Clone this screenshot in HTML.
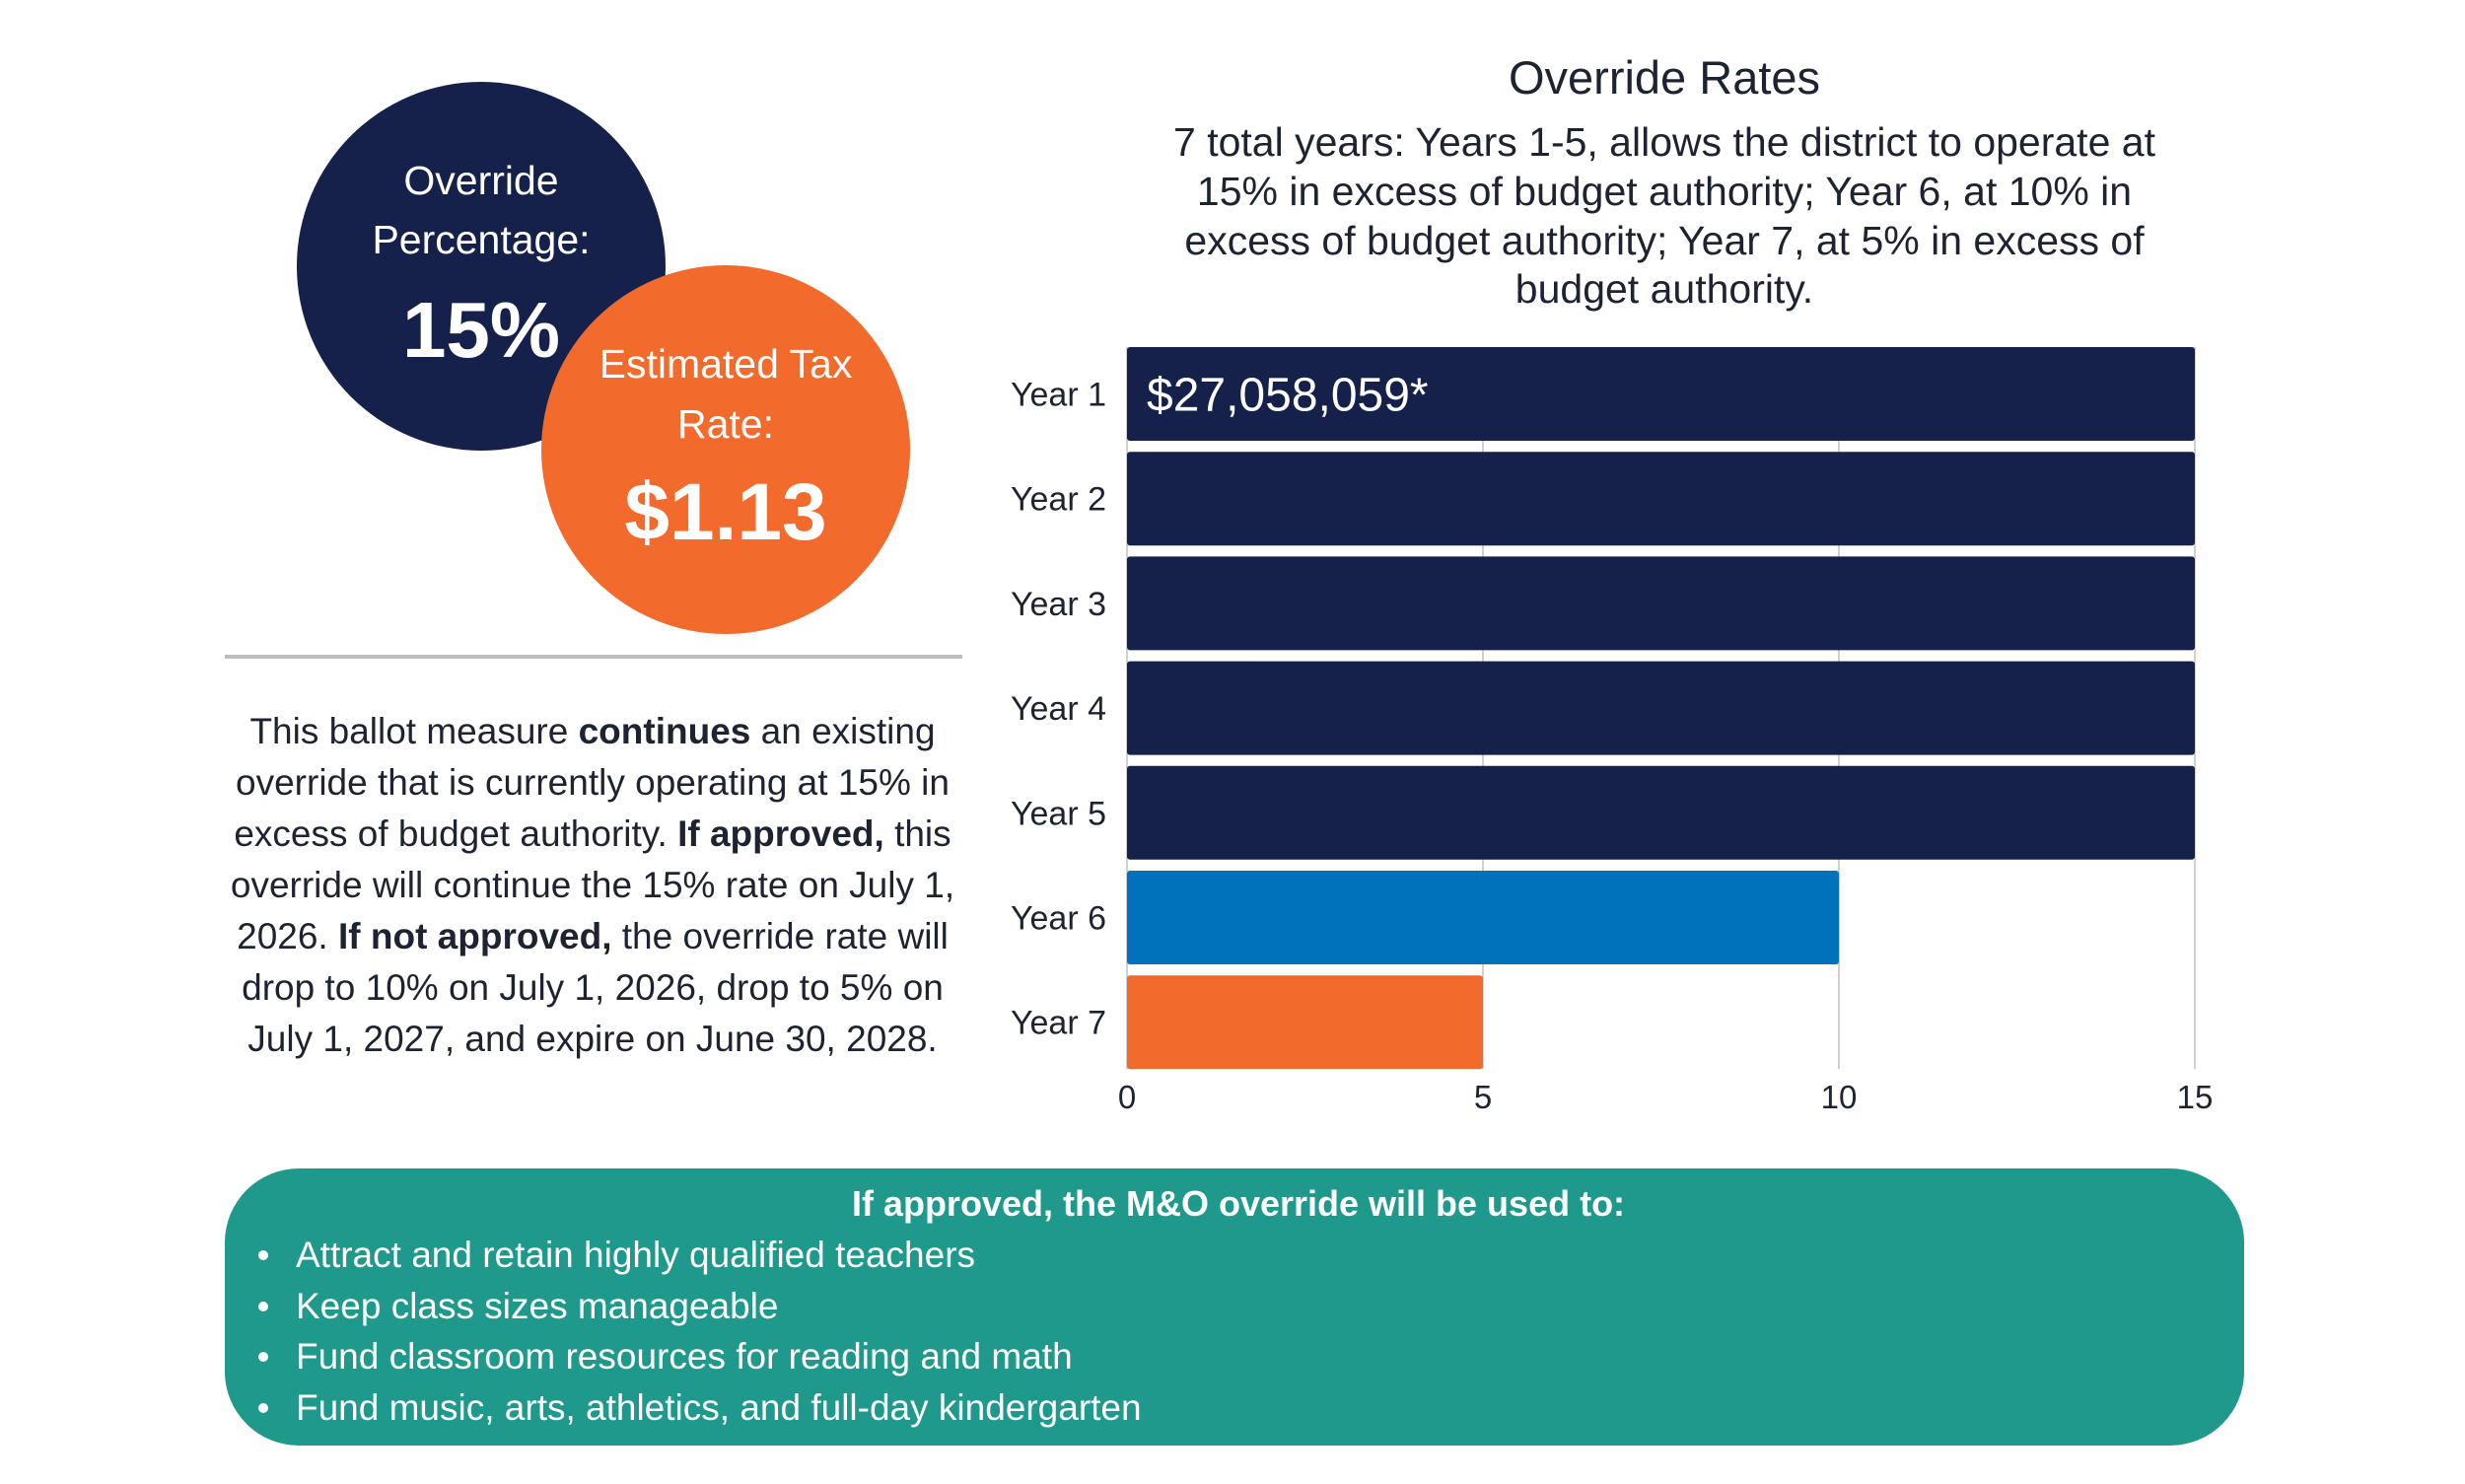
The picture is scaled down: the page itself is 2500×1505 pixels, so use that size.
<!DOCTYPE html>
<html><head><meta charset="utf-8"><style>
html,body{margin:0;padding:0;background:#fff}
svg{display:block}
text{font-family:"Liberation Sans",sans-serif}
</style></head><body>
<svg id="s" width="2500" height="1505" viewBox="0 0 2500 1505" xmlns="http://www.w3.org/2000/svg">
<g>
<circle cx="488" cy="270" r="187" fill="#15214a"/>
<text x="488" y="197" text-anchor="middle" font-size="41" fill="#fff">Override</text>
<text x="488" y="257" text-anchor="middle" font-size="41" fill="#fff">Percentage:</text>
<text x="488" y="362" text-anchor="middle" font-size="80" font-weight="bold" fill="#fff">15%</text>
</g>
<g>
<circle cx="736" cy="456" r="187" fill="#f26a2c"/>
<text x="736" y="383" text-anchor="middle" font-size="41" fill="#fff">Estimated Tax</text>
<text x="736" y="444" text-anchor="middle" font-size="41" fill="#fff">Rate:</text>
<text x="736" y="547" text-anchor="middle" font-size="82" font-weight="bold" fill="#fff">$1.13</text>
</g>
<rect x="228" y="664" width="748" height="4" fill="#bdbdbd"/>
<g font-size="37" fill="#1d2330" text-anchor="middle">
<text x="601" y="754">This ballot measure <tspan font-weight="bold">continues</tspan> an existing</text>
<text x="601" y="806">override that is currently operating at 15% in</text>
<text x="601" y="858">excess of budget authority. <tspan font-weight="bold">If approved,</tspan> this</text>
<text x="601" y="910">override will continue the 15% rate on July 1,</text>
<text x="601" y="962">2026. <tspan font-weight="bold">If not approved,</tspan> the override rate will</text>
<text x="601" y="1014">drop to 10% on July 1, 2026, drop to 5% on</text>
<text x="601" y="1066">July 1, 2027, and expire on June 30, 2028.</text>
</g>
<text x="1688" y="95" text-anchor="middle" font-size="47" fill="#1d2330">Override Rates</text>
<g font-size="41" fill="#1d2330" text-anchor="middle">
<text x="1688" y="158">7 total years: Years 1-5, allows the district to operate at</text>
<text x="1688" y="208">15% in excess of budget authority; Year 6, at 10% in</text>
<text x="1688" y="258">excess of budget authority; Year 7, at 5% in excess of</text>
<text x="1688" y="307">budget authority.</text>
</g>
<g id="chart"></g>
<g>
<rect x="228" y="1185" width="2048" height="281" rx="75" fill="#1f998b"/>
<text x="1256" y="1233" text-anchor="middle" font-size="36" font-weight="bold" fill="#fff">If approved, the M&amp;O override will be used to:</text>
<g font-size="37" fill="#fff">
<circle cx="267" cy="1273" r="5" fill="#fff"/><text x="300" y="1285">Attract and retain highly qualified teachers</text>
<circle cx="267" cy="1325" r="5" fill="#fff"/><text x="300" y="1337">Keep class sizes manageable</text>
<circle cx="267" cy="1376" r="5" fill="#fff"/><text x="300" y="1388">Fund classroom resources for reading and math</text>
<circle cx="267" cy="1428" r="5" fill="#fff"/><text x="300" y="1440">Fund music, arts, athletics, and full-day kindergarten</text>
</g>
</g>
</svg>
<script>
const categories = ["Year 1","Year 2","Year 3","Year 4","Year 5","Year 6","Year 7"];
const values = [15,15,15,15,15,10,5];
const barColors = ["#15214a","#15214a","#15214a","#15214a","#15214a","#0072bb","#f26a2c"];
const tickValues = [0,5,10,15];
const valueLabel = "$27,058,059*";
const NS = "http://www.w3.org/2000/svg";
const g = document.getElementById("chart");
const X0 = 1143, X1 = 2226, Y0 = 352, PITCH = 106.2, BH = 95, XMAX = 15;
function xs(v){ return X0 + (v / XMAX) * (X1 - X0); }
function yb(i){ return Y0 + i * PITCH; }
function mk(t, a){ const e = document.createElementNS(NS, t); for (const k in a) e.setAttribute(k, a[k]); g.appendChild(e); return e; }
const bottom = yb(categories.length - 1) + BH;
tickValues.forEach(function(t){
  const ln = mk("line", {x1: xs(t), x2: xs(t), y1: Y0, y2: bottom, stroke: "#d0d0d0", "stroke-width": 2});
  
  
  const tx = mk("text", {x: xs(t), y: 1124, "text-anchor": "middle", "font-size": 33, fill: "#1d2330"});
  tx.textContent = t;
  
  
});
categories.forEach(function(c, i){
  const r = mk("rect", {x: X0, y: yb(i), width: xs(values[i]) - X0, height: BH, rx: 3, fill: barColors[i]});
  
  
  const lb = mk("text", {x: 1122, y: yb(i) + BH / 2 + 12, "text-anchor": "end", "font-size": 34, fill: "#1d2330"});
  lb.textContent = c;
  
  
});
const vl = mk("text", {x: X0 + 20, y: yb(0) + BH / 2 + 17, "font-size": 48, fill: "#fff"});
vl.textContent = valueLabel;


</script>
</body></html>
